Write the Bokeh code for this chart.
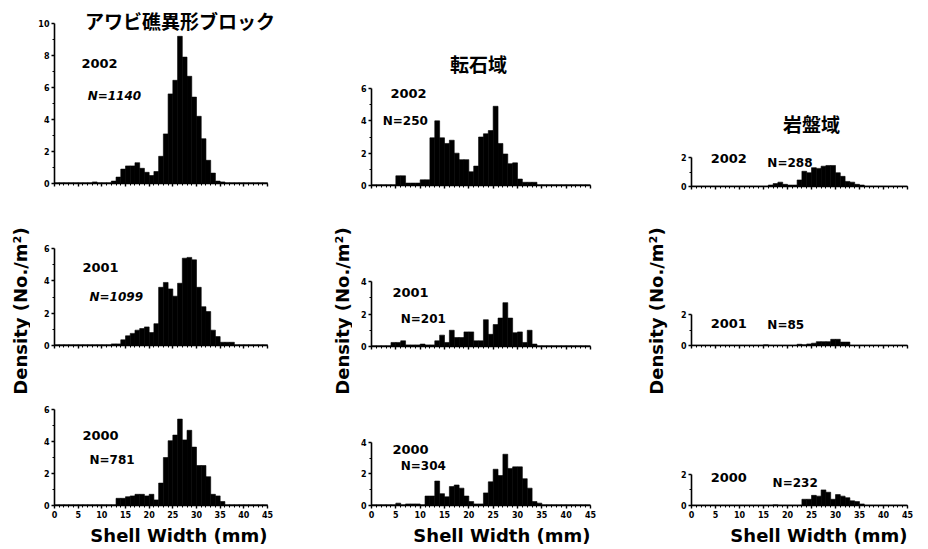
from math import pi
from bokeh.plotting import figure
from bokeh.models import Range1d, FixedTicker, Label, Title
from bokeh.layouts import row, column
from bokeh.embed import file_html
from bokeh.resources import INLINE

# ---------------- data (density, No./m^2, per 1 mm shell-width class) -------------
bin_edges = list(range(0, 46))
x_ticks = [0, 5, 10, 15, 20, 25, 30, 35, 40, 45]

col_titles = ["アワビ礁異形ブロック", "転石域", "岩盤域"]
years = ["2002", "2001", "2000"]

reef_2002 = [0.05, 0.05, 0.05, 0.05, 0.05,
             0.05, 0.05, 0.05, 0.1, 0.05,
             0.05, 0.05, 0.15, 0.4, 0.9,
             1.1, 1.1, 1.3, 0.95, 0.7,
             0.5, 0.75, 1.7, 3.1, 5.6,
             6.45, 9.2, 7.9, 6.7, 5.4,
             4.2, 2.8, 1.45, 0.65, 0.15,
             0.1, 0.05, 0.05, 0.05, 0.05,
             0.05, 0.05, 0.05, 0.05, 0.05]
reef_2001 = [0.05, 0.05, 0.05, 0.05, 0.05,
             0.05, 0.05, 0.05, 0.05, 0.05,
             0.05, 0.05, 0.1, 0.1, 0.35,
             0.6, 0.75, 0.95, 1.05, 1.15,
             0.8, 1.35, 3.6, 3.9, 3.5,
             3.05, 3.85, 5.4, 5.45, 5.3,
             3.6, 2.4, 2.1, 0.95, 0.55,
             0.2, 0.2, 0.2, 0.05, 0.05,
             0.05, 0.05, 0.05, 0.05, 0.05]
reef_2000 = [0.05, 0.05, 0.05, 0.05, 0.05,
             0.05, 0.05, 0.05, 0.05, 0.05,
             0.05, 0.05, 0.05, 0.45, 0.45,
             0.55, 0.6, 0.7, 0.7, 0.6,
             0.7, 0.35, 1.4, 3.0, 4.05,
             4.4, 5.4, 4.1, 4.7, 3.65,
             2.5, 2.5, 1.8, 0.7, 0.6,
             0.25, 0.05, 0.05, 0.05, 0.05,
             0.05, 0.05, 0.05, 0.05, 0.05]

cobble_2002 = [0.05, 0.05, 0.05, 0.05, 0.05,
               0.6, 0.6, 0.15, 0.15, 0.15,
               0.35, 0.35, 2.95, 4.0, 2.95,
               2.6, 2.8, 2.0, 1.6, 1.6,
               0.85, 1.2, 3.0, 3.2, 3.4,
               4.9, 2.6, 1.95, 1.35, 1.4,
               0.4, 0.2, 0.2, 0.2, 0.05,
               0.05, 0.05, 0.05, 0.05, 0.05,
               0.05, 0.05, 0.05, 0.05, 0.05]
cobble_2001 = [0.05, 0.05, 0.05, 0.05, 0.25,
               0.25, 0.35, 0.1, 0.1, 0.1,
               0.15, 0.1, 0.1, 0.35, 0.7,
               0.25, 1.0, 0.55, 0.55, 0.9,
               0.9, 0.35, 0.35, 1.65, 0.75,
               1.35, 1.75, 2.7, 1.75, 0.85,
               0.9, 0.25, 1.0, 0.15, 0.05,
               0.05, 0.05, 0.05, 0.05, 0.05,
               0.05, 0.05, 0.05, 0.05, 0.05]
cobble_2000 = [0.05, 0.05, 0.05, 0.05, 0.05,
               0.15, 0.05, 0.1, 0.1, 0.1,
               0.05, 0.6, 0.6, 1.55, 0.75,
               0.55, 1.2, 1.3, 1.1, 0.6,
               0.25, 0.1, 0.1, 0.8, 1.5,
               2.3, 1.9, 3.25, 2.35, 2.45,
               2.45, 1.7, 1.1, 0.25, 0.15,
               0.05, 0.05, 0.05, 0.05, 0.05,
               0.05, 0.05, 0.05, 0.05, 0.05]

rock_2002 = [0.03, 0.03, 0.03, 0.03, 0.03,
             0.03, 0.03, 0.03, 0.03, 0.03,
             0.03, 0.03, 0.03, 0.03, 0.03,
             0.03, 0.1, 0.2, 0.3, 0.15,
             0.1, 0.1, 0.45, 1.05, 0.95,
             1.3, 1.25, 1.4, 1.45, 1.45,
             0.95, 0.7, 0.35, 0.3, 0.15,
             0.1, 0.03, 0.03, 0.03, 0.03,
             0.03, 0.03, 0.03, 0.03, 0.03]
rock_2001 = [0.02, 0.02, 0.02, 0.02, 0.02,
             0.02, 0.02, 0.02, 0.02, 0.02,
             0.02, 0.02, 0.02, 0.02, 0.02,
             0.05, 0.02, 0.02, 0.02, 0.02,
             0.02, 0.02, 0.08, 0.05, 0.1,
             0.15, 0.25, 0.25, 0.25, 0.4,
             0.4, 0.22, 0.22, 0.02, 0.02,
             0.02, 0.02, 0.02, 0.02, 0.02,
             0.02, 0.02, 0.02, 0.02, 0.02]
rock_2000 = [0.03, 0.03, 0.03, 0.03, 0.03,
             0.03, 0.03, 0.03, 0.03, 0.03,
             0.03, 0.03, 0.03, 0.03, 0.03,
             0.03, 0.03, 0.05, 0.03, 0.03,
             0.03, 0.03, 0.03, 0.4, 0.4,
             0.65, 0.6, 1.0, 0.85, 0.4,
             0.7, 0.6, 0.5, 0.3, 0.25,
             0.1, 0.03, 0.03, 0.03, 0.03,
             0.03, 0.03, 0.03, 0.03, 0.03]

n_labels = [["N=1140", "N=1099", "N=781"],
            ["N=250", "N=201", "N=304"],
            ["N=288", "N=85", "N=232"]]
y_max = [[10, 6, 6], [6, 4, 4], [2, 2, 2]]

series = [[reef_2002, reef_2001, reef_2000],
          [cobble_2002, cobble_2001, cobble_2000],
          [rock_2002, rock_2001, rock_2000]]

y_label = "Density (No./m²)"
x_label = "Shell Width (mm)"

# ---------------- layout / style ----------------
FONT = "DejaVu Sans"
JFONT = "Noto Sans CJK JP"

col_width = [302, 293, 259]
col_border_lr = [(24, 65), (19, 55), (22, 21)]
row_height = [205, 160, 183]
# (top border to the y-max tick, bottom border, extra headroom px above y-max)
border_tb = [[(23, 22, 15), (43, 20, 0), (44, 42, 0)],
             [(88, 20, 40), (76, 19, 6), (77, 42, 6)],
             [(157, 19, 50), (109, 20, 10), (109, 42, 10)]]
# extra room (px) to the right of x = 45 per column (for the wide column title)
ext_right = [12, 0, 0]
# label positions in data units: (year x, year y, N x, N y)
text_pos = [[(5.7, 7.5, 7.0, 5.44), (5.9, 4.82, 7.4, 2.97), (5.9, 4.39, 7.4, 2.84)],
            [(3.9, 5.69, 2.3, 4.02), (4.3, 3.32, 6.0, 1.72), (4.3, 3.56, 6.0, 2.5)],
            [(4.0, 1.93, 15.8, 1.59), (4.0, 1.42, 15.8, 1.35), (4.0, 1.81, 16.9, 1.44)]]
n_style = [["bold italic", "bold italic", "bold"], ["bold"] * 3, ["bold"] * 3]
title_pos = [(26.5, 10.2), (22.0, 7.54), (25.0, 4.34)]


def make_panel(c, r):
    w = col_width[c]
    h = row_height[r]
    bl, br = col_border_lr[c]
    bt, bb, ext = border_tb[c][r]
    er = ext_right[c]
    ymax = y_max[c][r]
    frame_h = h - bt - bb
    frame_w = w - bl - br
    y_end = ymax + ext * ymax / frame_h
    x_end = 45 + er * 45 / frame_w
    p = figure(width=w, height=h, x_range=Range1d(0, x_end), y_range=Range1d(0, y_end),
               toolbar_location=None, output_backend="svg",
               min_border_left=bl, min_border_right=br - er,
               min_border_top=bt - ext, min_border_bottom=bb)
    p.outline_line_color = None
    p.grid.visible = False
    p.background_fill_color = "white"
    p.border_fill_color = "white"
    p.quad(left=bin_edges[:-1], right=bin_edges[1:], bottom=0, top=series[c][r],
           fill_color="black", line_color="black", line_width=0.6)

    p.xaxis.ticker = FixedTicker(ticks=x_ticks, minor_ticks=list(range(0, 46)))
    p.xaxis.bounds = (0, 45)
    yt = list(range(0, ymax + 1, 2))
    p.yaxis.ticker = FixedTicker(ticks=yt, minor_ticks=list(range(1, ymax, 2)))
    p.yaxis.bounds = (0, ymax)
    for ax in (p.xaxis, p.yaxis):
        ax.axis_line_color = "black"
        ax.axis_line_width = 1.6
        ax.major_tick_line_color = "black"
        ax.major_tick_line_width = 1.4
        ax.major_tick_in = 0
        ax.major_tick_out = 3
        ax.minor_tick_line_color = "black"
        ax.minor_tick_line_width = 1
        ax.minor_tick_in = 0
        ax.minor_tick_out = 2
        ax.major_label_text_font = FONT
        ax.major_label_text_font_style = "bold"
        ax.major_label_text_font_size = "8px"
        ax.major_label_text_color = "black"
        ax.major_label_standoff = 2
    if r != 2:
        p.xaxis.major_label_text_color = None

    yx, yy, nx, ny = text_pos[c][r]
    p.add_layout(Label(x=yx, y=yy, text=years[r], text_font=FONT, text_font_style="bold",
                       text_font_size="13px", text_baseline="middle", text_align="left",
                       text_color="black"))
    p.add_layout(Label(x=nx, y=ny, text=n_labels[c][r], text_font=FONT,
                       text_font_style=n_style[c][r], text_font_size="12px",
                       text_baseline="middle", text_align="left", text_color="black"))
    if r == 0:
        tx, ty = title_pos[c]
        p.add_layout(Label(x=tx, y=ty, text=col_titles[c], text_font=JFONT,
                           text_font_style="bold", text_font_size="19px",
                           text_baseline="middle", text_align="center", text_color="black"))
    if r == 2:
        p.add_layout(Title(text=x_label, align="right", offset=er, text_font=FONT,
                           text_font_style="bold", text_font_size="18px",
                           text_color="black", standoff=5), "below")
    return p


def make_ylabel(width, xfrac):
    h = sum(row_height)
    p = figure(width=width, height=h, x_range=Range1d(0, 1), y_range=Range1d(0, 1),
               x_axis_type=None, y_axis_type=None, toolbar_location=None, output_backend="svg",
               min_border=0)
    p.outline_line_color = None
    p.grid.visible = False
    p.add_layout(Label(x=xfrac, y=(h - 310.5) / h, text=y_label, angle=pi / 2, text_font=FONT,
                       text_font_style="bold", text_font_size="18px",
                       text_align="center", text_baseline="middle", text_color="black"))
    return p


cols = []
lab_specs = [(30, 0.667), (20, 0.5), (24, 0.458)]
for c in range(3):
    cols.append(make_ylabel(*lab_specs[c]))
    cols.append(column(*[make_panel(c, r) for r in range(3)]))

layout = row(*cols)

open("out.html", "w").write(file_html(layout, INLINE))
